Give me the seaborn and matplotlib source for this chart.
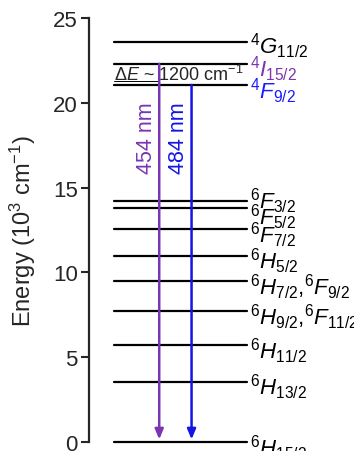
import matplotlib
matplotlib.use("Agg")
import matplotlib.pyplot as plt
import seaborn as sns
import pandas as pd

# Energy levels of Dy3+ (10^3 cm^-1)
states = [r"$^{6}H_{15/2}$", r"$^{6}H_{13/2}$", r"$^{6}H_{11/2}$",
          r"$^{6}H_{9/2}$,$^{6}F_{11/2}$", r"$^{6}H_{7/2}$,$^{6}F_{9/2}$",
          r"$^{6}H_{5/2}$", r"$^{6}F_{7/2}$", r"$^{6}F_{5/2}$", r"$^{6}F_{3/2}$",
          r"$^{4}F_{9/2}$", r"$^{4}I_{15/2}$", r"$^{4}G_{11/2}$"]
energies = [0.0, 3.56, 5.70, 7.72, 9.51, 10.99, 12.56, 13.82, 14.23, 21.05, 22.30, 23.58]
label_colors = ["black"] * 9 + ["#1a1aff", "#7a35b0", "black"]
label_shift = [-0.3, -0.3, -0.3, -0.3, -0.3, -0.3, -0.3, -0.5, 0.05, -0.3, -0.25, -0.2]

# Emission transitions
emissions = ["454 nm", "484 nm"]
emit_from = [22.30, 21.05]
emit_to = [0.0, 0.0]
emit_colors = ["#7a35b0", "#1414e6"]

yticks = [0, 5, 10, 15, 20, 25]

sns.set_style("ticks")
plt.rcParams["font.family"] = ["Liberation Sans", "DejaVu Sans"]
plt.rcParams["mathtext.fontset"] = "custom"
plt.rcParams["mathtext.rm"] = "Liberation Sans"
plt.rcParams["mathtext.it"] = "Liberation Sans:italic"
plt.rcParams["mathtext.bf"] = "Liberation Sans:bold"

fig = plt.figure(figsize=(3.54, 4.52), dpi=100)
ax = fig.add_axes([89 / 354, 1 - 443 / 452, 1 - 89 / 354, 424 / 452])

x0, x1 = 0.094, 0.596
rows = []
for s, e in zip(states, energies):
    rows.append({"state": s, "x": x0, "E": e})
    rows.append({"state": s, "x": x1, "E": e})
levels = pd.DataFrame(rows)
sns.lineplot(data=levels, x="x", y="E", units="state", estimator=None,
             color="black", lw=1.6, ax=ax, clip_on=False, sort=False)

for s, e, c, d in zip(states, energies, label_colors, label_shift):
    ax.text(x1 + 0.012, e + d, s, color=c, fontsize=16, va="center", ha="left",
            clip_on=False)

arrow_x = [0.265, 0.387]
for name, e0, e1, c, xa in zip(emissions, emit_from, emit_to, emit_colors, arrow_x):
    ax.annotate("", xy=(xa, e1 + 0.15), xytext=(xa, e0),
                arrowprops=dict(arrowstyle="-|>,head_length=0.6,head_width=0.25",
                                color=c, lw=1.8, shrinkA=0, shrinkB=0))
    ax.text(xa - 0.008, 17.95, name, color=c, fontsize=15.5, rotation=90,
            ha="right", va="center")

# energy gap between the two emitting levels
ax.text(x0, 21.12, r"$\Delta E$ ~ 1200 cm$^{-1}$", fontsize=13, ha="left", va="bottom")
ax.plot([x0, arrow_x[0]], [21.27, 21.27], color="black", lw=0.7)

ax.set_xlim(0, 1)
ax.set_ylim(0, 25)
ax.set_yticks(yticks)
ax.set_xticks([])
ax.tick_params(axis="y", length=6, width=1.5, labelsize=16, pad=2)
ax.set_ylabel(r"Energy (10$^{3}$ cm$^{-1}$)", fontsize=17, labelpad=11)
ax.set_xlabel("")
for sp in ["top", "right", "bottom"]:
    ax.spines[sp].set_visible(False)
ax.spines["left"].set_linewidth(1.6)
ax.patch.set_alpha(0)

fig.savefig("out.png", dpi=100)
